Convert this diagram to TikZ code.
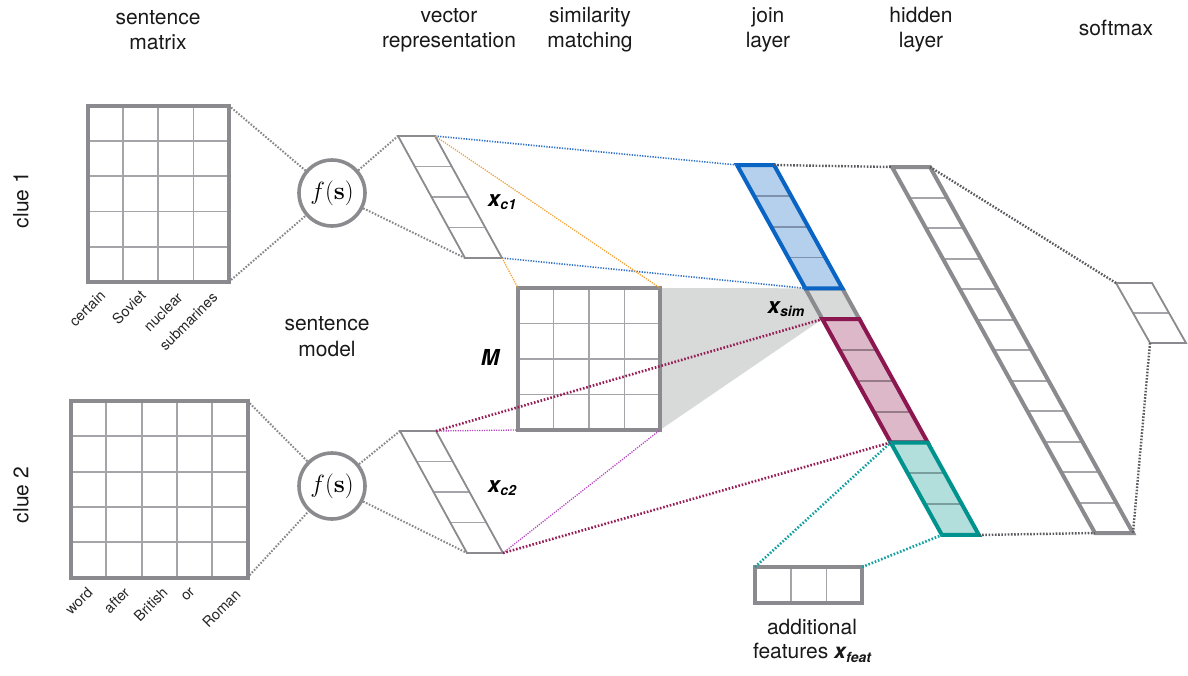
\documentclass[tikz,border=0pt]{standalone}
\usepackage[no-math]{fontspec}
\setmainfont{TeX Gyre Heros}
\pgfdeclarelayer{background}
\pgfsetlayers{background,main}
\definecolor{mgray}{RGB}{139,139,143}
\definecolor{lgray}{RGB}{165,165,169}
\definecolor{dotgray}{RGB}{135,135,138}
\definecolor{ddotgray}{RGB}{90,90,95}
\definecolor{jblue}{RGB}{10,100,195}
\definecolor{jbluef}{RGB}{180,208,236}
\definecolor{jbluei}{RGB}{125,145,172}
\definecolor{jpink}{RGB}{140,22,80}
\definecolor{jpinkf}{RGB}{220,184,200}
\definecolor{jpinki}{RGB}{150,122,136}
\definecolor{jteal}{RGB}{0,146,140}
\definecolor{jtealf}{RGB}{178,222,220}
\definecolor{jteali}{RGB}{120,158,158}
\definecolor{simgray}{RGB}{216,217,217}
\definecolor{dblue}{RGB}{50,115,200}
\definecolor{dorange}{RGB}{240,160,50}
\definecolor{dmag}{RGB}{180,70,190}
\definecolor{dmaroon}{RGB}{150,30,85}
\definecolor{dteal}{RGB}{20,160,160}
\newcommand\slantvec[8]{%
  \pgfmathsetmacro\svH{#5*#6}%
  \pgfmathsetmacro\svD{#7*\svH}%
  \coordinate (#1-tl) at (#2,#3);
  \coordinate (#1-tr) at (#2+#4,#3);
  \coordinate (#1-bl) at (#2+\svD,#3+\svH);
  \coordinate (#1-br) at (#2+\svD+#4,#3+\svH);
  \fill[#8fill] (#1-tl) -- (#1-tr) -- (#1-br) -- (#1-bl) -- cycle;
  \pgfmathtruncatemacro\svN{#6-1}%
  \ifnum\svN>0
    \foreach \k in {1,...,\svN}{\draw[#8inner] (#2+#7*#5*\k,#3+#5*\k) -- ++(#4,0);}
  \fi
  \draw[#8line] (#1-tl) -- (#1-tr) -- (#1-br) -- (#1-bl) -- cycle;
}
\newcommand\gridmat[6]{%
  \node[matbg, minimum width=#4*#6, minimum height=#5*#6, anchor=north west] (#1) at (#2,#3) {};
  \pgfmathtruncatemacro\gmC{#4-1}%
  \pgfmathtruncatemacro\gmR{#5-1}%
  \ifnum\gmC>0
    \foreach \i in {1,...,\gmC}{\draw[matinner] (#2+\i*#6,#3) -- ++(0,#5*#6);}
  \fi
  \ifnum\gmR>0
    \foreach \j in {1,...,\gmR}{\draw[matinner] (#2,#3+\j*#6) -- ++(#4*#6,0);}
  \fi
  \draw[matline] (#1.north west) rectangle (#1.south east);
}
\newcommand\xv[1]{{\bfseries\itshape x\kern0.3pt\raisebox{-3.5pt}{\fontsize{14}{14}\selectfont #1}}}
\begin{document}
\begin{tikzpicture}[x=1pt,y=-1pt,
  lbl/.style={font=\fontsize{21}{25}\selectfont, align=center, inner sep=0pt, text=black!90},
  wlbl/.style={font=\fontsize{14.5}{14.5}\selectfont, rotate=45, anchor=east, inner sep=0pt, text=black!85},
  vlbl/.style={font=\fontsize{22}{22}\selectfont\bfseries\itshape, inner sep=0pt},
  matbg/.style={rectangle, fill=white, inner sep=0pt, outer sep=0pt},
  matinner/.style={draw=lgray, line width=1.8pt},
  matline/.style={draw=mgray, line width=4pt},
  fnode/.style={circle, draw=mgray, line width=3.6pt, fill=white, minimum size=66pt, inner sep=0pt, font=\fontsize{24}{24}\selectfont},
  thinfill/.style={fill=white},
  thininner/.style={draw=lgray, line width=1.6pt},
  thinline/.style={draw=mgray, line width=1.8pt},
  hidfill/.style={fill=white},
  hidinner/.style={draw=lgray, line width=2pt},
  hidline/.style={draw=mgray, line width=4pt},
  bluefill/.style={fill=jbluef},
  blueinner/.style={draw=jbluei, line width=1.8pt},
  blueline/.style={draw=jblue, line width=4pt},
  simfill/.style={fill=simgray},
  siminner/.style={draw=mgray, line width=1.8pt},
  simline/.style={draw=mgray, line width=4pt},
  pinkfill/.style={fill=jpinkf},
  pinkinner/.style={draw=jpinki, line width=1.8pt},
  pinkline/.style={draw=jpink, line width=4pt},
  tealfill/.style={fill=jtealf},
  tealinner/.style={draw=jteali, line width=1.8pt},
  tealline/.style={draw=jteal, line width=4pt},
  gdot/.style={draw=dotgray, line width=2pt, dash pattern=on 1.6pt off 1.6pt},
  ddot/.style={draw=ddotgray, line width=2.4pt, dash pattern=on 1.6pt off 1.6pt},
  bdot/.style={draw=dblue, line width=1.6pt, dash pattern=on 1.3pt off 1.3pt},
  odot/.style={draw=dorange, line width=1.3pt, dash pattern=on 1.2pt off 1.2pt},
  pdot/.style={draw=dmag, line width=1.3pt, dash pattern=on 1.2pt off 1.2pt},
  mdot/.style={draw=dmaroon, line width=2.6pt, dash pattern=on 1.6pt off 1.8pt},
  tdot/.style={draw=dteal, line width=2.6pt, dash pattern=on 1.6pt off 1.8pt}
]
\useasboundingbox (0,0) rectangle (1188,675);

% headings
\node[lbl] (h1) at (158,30) {sentence\\matrix};
\node[lbl] (h2) at (449,30) {vector\\representation};
\node[lbl] (h3) at (590,30) {similarity\\matching};
\node[lbl] (h4) at (768,30) {join\\layer};
\node[lbl] (h5) at (921,30) {hidden\\layer};
\node[lbl] (h6) at (1116,28) {softmax};
\node[lbl, rotate=90] (c1) at (21,200) {clue 1};
\node[lbl, rotate=90] (c2) at (21,495) {clue 2};
\node[lbl, font=\fontsize{21}{26}\selectfont] (smod) at (327,337) {sentence\\model};

% sentence matrices
\gridmat{S1}{87.5}{105.5}{4}{5}{35.3}
\gridmat{S2}{71}{401}{5}{5}{35.3}
\node[wlbl] (w11) at (103,293) {certain};
\node[wlbl] (w12) at (143,293) {Soviet};
\node[wlbl] (w13) at (180,295) {nuclear};
\node[wlbl] (w14) at (215,295) {submarines};
\node[wlbl] (w21) at (90,590) {word};
\node[wlbl] (w22) at (127,590) {after};
\node[wlbl] (w23) at (165,590) {British};
\node[wlbl] (w24) at (193,590) {or};
\node[wlbl] (w25) at (238,592) {Roman};

% sentence model
\node[fnode] (f1) at (332,193) {$f(\mathbf{s})$};
\node[fnode] (f2) at (332,486) {$f(\mathbf{s})$};

% vector representations
\slantvec{v1}{398}{136}{37}{30.5}{4}{0.549}{thin}
\slantvec{v2}{400}{431}{36}{30.5}{4}{0.549}{thin}
\node[vlbl] (xc1) at (502,202) {\xv{c1}};
\node[vlbl] (xc2) at (502,488) {\xv{c2}};

% similarity matrix
\gridmat{M}{518}{288}{4}{4}{35.5}
\node[vlbl] (Mlab) at (490,357) {M};

% join layer
\slantvec{js}{805.3}{288.3}{37}{30.83}{1}{0.554}{sim}
\slantvec{jb}{737}{165}{37}{30.83}{4}{0.554}{blue}
\slantvec{jp}{822.4}{319.15}{37}{30.83}{4}{0.554}{pink}
\slantvec{jt}{890.7}{442.5}{37}{30.83}{3}{0.554}{teal}
\node[vlbl] (xsim) at (786,309) {\xv{sim}};

% hidden layer and softmax
\slantvec{hid}{892}{167}{38}{30.5}{12}{0.5546}{hid}
\slantvec{sm}{1116}{283}{36}{30}{2}{0.567}{thin}

% additional features
\gridmat{F}{755}{567}{3}{1}{35.7}
\node[lbl, font=\fontsize{21}{24}\selectfont] (addf) at (812,641) {additional\\features \xv{feat}};

% similarity shading
\begin{pgfonlayer}{background}
\fill[simgray] (M.north east) -- (js-tl) -- (js-bl) -- (M.south east) -- cycle;
\end{pgfonlayer}

% connectors
\draw[gdot] (S1.north east) -- (f1);
\draw[gdot] (S1.south east) -- (f1);
\draw[gdot] (f1) -- (v1-tl);
\draw[gdot] (f1) -- (v1-bl);
\draw[gdot] (S2.north east) -- (f2);
\draw[gdot] (S2.south east) -- (f2);
\draw[gdot] (f2) -- (v2-tl);
\draw[gdot] (f2) -- (v2-bl);

\draw[bdot] (v1-tr) -- (jb-tl);
\draw[bdot] (v1-br) -- (jb-bl);
\draw[odot] (v1-tr) -- (M.north east);
\draw[odot] (v1-br) -- (M.north west);
\draw[pdot] (v2-tr) -- (M.south west);
\draw[pdot] (v2-br) -- (M.south east);
\draw[mdot] (v2-tr) -- (jp-tl);
\draw[mdot] (v2-br) -- (jp-bl);
\draw[tdot] (F.north west) -- (jt-tl);
\draw[tdot] (F.north east) -- (jt-bl);

\draw[ddot] (jb-tr) -- (hid-tl);
\draw[ddot] (jt-br) -- (hid-bl);
\draw[ddot] (hid-tr) -- (sm-tl);
\draw[ddot] (sm-bl) -- (hid-br);
\end{tikzpicture}
\end{document}
